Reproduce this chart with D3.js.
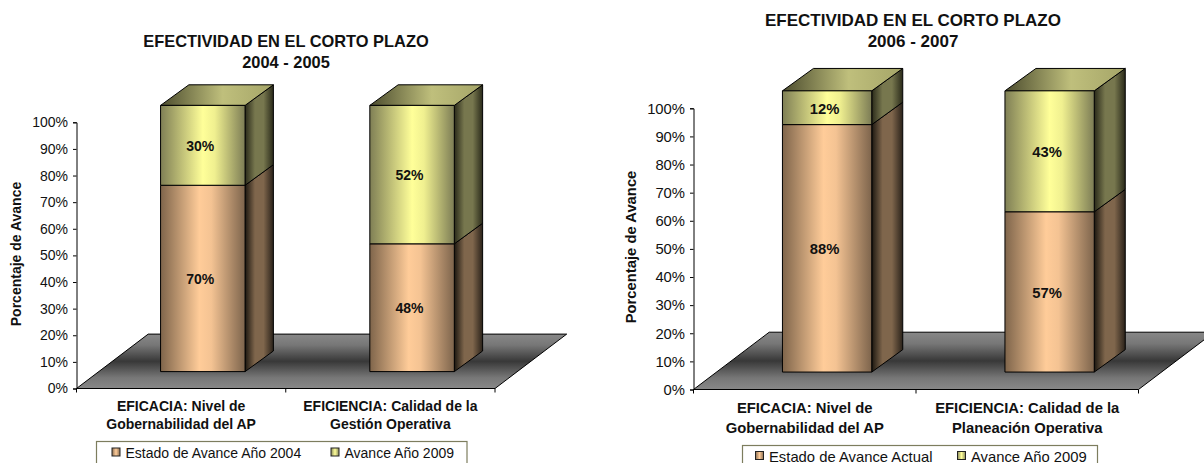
<!DOCTYPE html>
<html>
<head>
<meta charset="utf-8">
<script src="https://cdnjs.cloudflare.com/ajax/libs/d3/7.8.5/d3.min.js"></script>
<style>
body{margin:0;background:#fff;}
svg{display:block;}
text{font-family:"Liberation Sans",Arial,sans-serif;fill:#111;}
</style>
</head>
<body>
<svg id="chart" width="1204" height="463"></svg>
<script>
var tickValues = [0,10,20,30,40,50,60,70,80,90,100];
var yAxisLabel = "Porcentaje de Avance";

var titleLeft = ["EFECTIVIDAD EN EL CORTO PLAZO","2004 - 2005"];
var categoriesLeft = [["EFICACIA: Nivel de","Gobernabilidad del AP"],["EFICIENCIA: Calidad de la","Gestión Operativa"]];
var estadoLeft = [70,48];
var avanceLeft = [30,52];
var legendLeft = ["Estado de Avance Año 2004","Avance Año 2009"];

var titleRight = ["EFECTIVIDAD EN EL CORTO PLAZO","2006 - 2007"];
var categoriesRight = [["EFICACIA: Nivel de","Gobernabilidad del AP"],["EFICIENCIA: Calidad de la","Planeación Operativa"]];
var estadoRight = [88,57];
var avanceRight = [12,43];
var legendRight = ["Estado de Avance Actual","Avance Año 2009"];

var svg = d3.select("#chart");
var defs = svg.append("defs");

function gradient(id,stops,vertical){
    var g = defs.append("linearGradient").attr("id",id)
        .attr("x1",0).attr("y1",0)
        .attr("x2",vertical?0:1).attr("y2",vertical?1:0);
    stops.forEach(function(s){
        g.append("stop").attr("offset",s[0]).attr("stop-color",s[1]);
    });
}
gradient("peachFront",[[0,"#7f654b"],[0.46,"#ffcc99"],[0.6,"#f4c393"],[1,"#7d644c"]]);
gradient("peachSide",[[0,"#1c1710"],[0.35,"#7f664c"],[0.65,"#7f664c"],[1,"#2a221a"]]);
gradient("yellowFront",[[0,"#7f7f55"],[0.5,"#ffff99"],[0.64,"#f0f090"],[1,"#7c7c55"]]);
gradient("yellowSide",[[0,"#2a2a1a"],[0.35,"#77774e"],[0.65,"#77774e"],[1,"#2a2a1a"]]);
gradient("yellowTop",[[0,"#4c4c2e"],[0.55,"#bfbf7c"],[1,"#a5a568"]]);
gradient("floorFill",[[0,"#888888"],[0.2,"#777777"],[0.5,"#383838"],[0.8,"#777777"],[1,"#888888"]],true);
gradient("swatchPeach",[[0,"#8a6e52"],[0.5,"#ffcc99"],[1,"#8a6e52"]]);
gradient("swatchYellow",[[0,"#8a8a5c"],[0.5,"#ffff99"],[1,"#8a8a5c"]]);

function poly(g,pts,fill,sw){
    g.append("polygon")
        .attr("points",pts.map(function(p){return p.join(",");}).join(" "))
        .attr("fill",fill)
        .attr("stroke","#000")
        .attr("stroke-width",sw||1)
        .attr("stroke-linejoin","round");
}

function drawChart(c){
    var g = svg.append("g");
    var y = d3.scaleLinear().domain([0,100]).range([c.y0,c.y100]);
    var idx = c.categories.map(function(d,i){return i;});
    var x = d3.scaleBand().domain(idx).range([c.x0,c.x1]);
    var offX = (c.floorDx-c.barDx)/2;
    var offY = (c.floorDy-c.barDy)/2;

    // floor
    poly(g,[[c.x0,c.y0],[c.x1,c.y0],[c.x1+c.floorDx,c.y0-c.floorDy],[c.x0+c.floorDx,c.y0-c.floorDy]],"url(#floorFill)",1);

    // bars
    idx.forEach(function(i){
        var left = x(i)+x.bandwidth()/2+offX-c.barW/2;
        var right = left+c.barW;
        var yBase = y(0)-offY;
        var yMid = y(c.estado[i])-offY;
        var yTop = y(c.estado[i]+c.avance[i])-offY;
        var dx = c.barDx, dy = c.barDy;

        poly(g,[[right,yBase],[right+dx,yBase-dy],[right+dx,yMid-dy],[right,yMid]],"url(#peachSide)");
        poly(g,[[right,yMid],[right+dx,yMid-dy],[right+dx,yTop-dy],[right,yTop]],"url(#yellowSide)");
        poly(g,[[left,yTop],[right,yTop],[right+dx,yTop-dy],[left+dx,yTop-dy]],"url(#yellowTop)");
        poly(g,[[left,yMid],[right,yMid],[right,yBase],[left,yBase]],"url(#peachFront)");
        poly(g,[[left,yTop],[right,yTop],[right,yMid],[left,yMid]],"url(#yellowFront)");

        g.append("text").attr("x",(left+right)/2-2.5).attr("y",(yBase+yMid)/2+0.5)
            .attr("dy","0.36em").attr("text-anchor","middle")
            .attr("font-size",c.fs).attr("font-weight","bold").text(c.estado[i]+"%");
        g.append("text").attr("x",(left+right)/2-2.5).attr("y",(yMid+yTop)/2+0.5)
            .attr("dy","0.36em").attr("text-anchor","middle")
            .attr("font-size",c.fs).attr("font-weight","bold").text(c.avance[i]+"%");
    });

    // y axis
    var yAxis = g.append("g").attr("transform","translate("+c.x0+",0)")
        .call(d3.axisLeft(y).tickValues(tickValues).tickSize(3.5).tickPadding(5).tickFormat(function(d){return d+"%";}));
    yAxis.selectAll("text").attr("font-size",c.fs).style("font-family",'"Liberation Sans",Arial,sans-serif').attr("fill","#222");
    yAxis.selectAll("path,line").attr("stroke","#000");

    // x axis ticks at the band edges
    var edges = idx.map(function(i){return x(i);}).concat([c.x1]);
    g.selectAll(null).data(edges).enter().append("line")
        .attr("x1",function(d){return d;}).attr("x2",function(d){return d;})
        .attr("y1",c.y0).attr("y2",c.y0+4).attr("stroke","#000");

    // category labels
    idx.forEach(function(i){
        c.categories[i].forEach(function(line,k){
            g.append("text").attr("x",x(i)+x.bandwidth()/2).attr("y",c.catY+k*c.catStep)
                .attr("text-anchor","middle").attr("font-size",c.fs).attr("font-weight","bold").text(line);
        });
    });

    // titles
    c.title.forEach(function(line,k){
        g.append("text").attr("x",c.titleX).attr("y",c.titleY+k*21)
            .attr("text-anchor","middle").attr("font-size",c.titleFs).attr("font-weight","bold").text(line);
    });

    // y title
    g.append("text").attr("transform","translate("+c.yTitleX+","+c.yTitleY+") rotate(-90)")
        .attr("text-anchor","middle").attr("font-size",c.fs).attr("font-weight","bold").text(yAxisLabel);

    // legend
    g.append("rect").attr("x",c.legX).attr("y",c.legY).attr("width",c.legW).attr("height",c.legH)
        .attr("fill","#fff").attr("stroke","#7d7d5e").attr("stroke-width",1.2);
    var swatches = ["url(#swatchPeach)","url(#swatchYellow)"];
    c.legend.forEach(function(label,k){
        g.append("rect").attr("x",c.legSwatch[k]).attr("y",c.legText-10).attr("width",8).attr("height",8)
            .attr("fill",swatches[k]).attr("stroke","#222");
        g.append("text").attr("x",c.legSwatch[k]+13.5).attr("y",c.legText)
            .attr("font-size",c.fs).attr("fill","#222").text(label);
    });
}

drawChart({
    title:titleLeft,categories:categoriesLeft,estado:estadoLeft,avance:avanceLeft,legend:legendLeft,
    x0:76.5,x1:495,y0:388.5,y100:122.3,floorDx:71.7,floorDy:54.4,barDx:28.3,barDy:20.6,barW:84.5,
    fs:14,titleFs:16.4,titleX:286,titleY:47,catY:411,catStep:18,
    yTitleX:21,yTitleY:254,legX:96.5,legY:441.5,legW:370.5,legH:30,legSwatch:[112,331],legText:458
});
drawChart({
    title:titleRight,categories:categoriesRight,estado:estadoRight,avance:avanceRight,legend:legendRight,
    x0:693.5,x1:1138.5,y0:389.5,y100:108.3,floorDx:75.7,floorDy:57.3,barDx:31,barDy:22.4,barW:89.3,
    fs:14.8,titleFs:17,titleX:913,titleY:26,catY:413,catStep:19.5,
    yTitleX:636,yTitleY:247,legX:742.5,legY:445.5,legW:355,legH:30,legSwatch:[755.5,957.5],legText:461.5
});
</script>
</body>
</html>
